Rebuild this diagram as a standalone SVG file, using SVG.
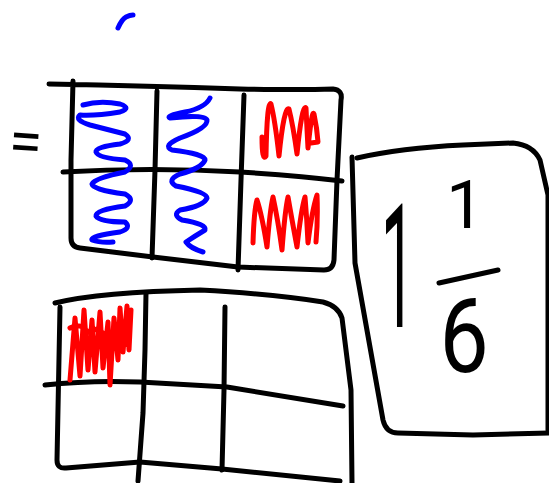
<svg xmlns="http://www.w3.org/2000/svg" width="549" height="483" viewBox="0 0 549 483">
<style>
.k{fill:none;stroke:#000;stroke-width:5;stroke-linecap:round;stroke-linejoin:round}
.b{fill:none;stroke:#0000ff;stroke-width:5;stroke-linecap:round;stroke-linejoin:round}
.r{fill:none;stroke:#ff0000;stroke-width:5;stroke-linecap:round;stroke-linejoin:round}
.t{font-family:Roboto,"Liberation Sans",Arial,sans-serif;fill:#000}
</style>
<rect width="549" height="483" fill="#fff"/>
<g id="tick"><path class="b" d="M118,28 Q122,19 126,17 Q130,15 133,15"/></g>
<g id="equals"><text class="t" x="9" y="162" font-size="60" font-family="Liberation Sans, Arial, sans-serif" transform="rotate(4 26 144)">=</text></g>
<g id="grid-top">
<path class="k" d="M49,84 Q150,86 240,89 Q300,90 333,89 Q343,90 341,100 L337,180 L334,260 Q333,270 324,270 L238,267 L153,257 L80,248 Q71,247 71,238 L71,160 L73,81"/>
<path class="k" d="M63,172 Q150,167 240,172 Q300,176 342,181"/>
<path class="k" d="M157,91 L155,170 L152,258"/>
<path class="k" d="M244,95 L241,180 L238,270"/>
<path class="b" d="M83,105 Q100,100 120,104 Q132,108 120,112 Q95,116 80,115 Q74,120 90,125 L125,134 Q134,140 120,144 Q95,147 96,152 Q98,158 125,160 Q136,165 125,172 Q95,178 92,184 Q93,190 125,194 Q136,200 125,206 Q95,210 96,216 Q100,222 125,222 Q132,228 120,232 Q90,236 92,240 Q100,243 113,242"/>
<path class="b" d="M210,98 Q205,108 185,112 Q165,116 170,118 Q205,114 207,120 Q208,128 180,138 Q162,146 172,150 Q205,154 205,160 Q202,168 180,174 Q166,180 176,186 Q207,192 207,198 Q204,206 180,210 Q172,215 182,220 Q207,224 205,230 Q195,236 186,242 Q190,248 203,252"/>
<path class="r" d="M262,137 Q262,162 266,156 Q267,100 271,104 Q275,120 279,156 Q284,106 289,109 Q293,125 297,154 Q302,104 306,108 Q307,130 308,148 Q312,108 314,114 Q317,128 318,142 L311,143"/>
<path class="r" d="M253,243 Q254,210 257,200 Q262,215 267,247 Q270,210 273,197 Q278,220 282,250 Q285,210 288,197 Q292,220 297,247 Q301,210 305,197 Q307,220 308,243 Q312,210 317,195 Q318,220 316,242"/>
</g>
<g id="grid-bottom">
<path class="k" d="M55,303 Q100,292 200,290 Q273,294 323,302 Q338,306 342,318 L351,390 L352,483"/>
<path class="k" d="M60,307 L57,460 Q57,469 66,468 L140,462 L222,469 L340,481"/>
<path class="k" d="M45,385 Q90,380 140,382 L227,387 L343,406"/>
<path class="k" d="M146,293 L145,350 L143,413 L138,481"/>
<path class="k" d="M225,307 L224,390 L222,470"/>
<path class="r" d="M70,380 L75,318 L80,376 L84,310 L88,370 L92,320 L95,372 L100,312 L103,368 L108,322 L110,385 L114,318 L118,360 L120,308 L123,352 L127,306 L129,350 L131,310 L128,345 M70,328 Q80,322 88,332 Q96,326 104,334"/>
</g>
<g id="answer">
<path class="k" d="M352,157 L355,263 L383,420 Q386,433 398,433 L473,435 L549,433"/>
<path class="k" d="M357,158 Q400,148 463,145 L513,143 Q533,145 540,160 L548,195 L548,430"/>
<text class="t" font-size="172" text-anchor="middle" transform="translate(398,327) scale(0.35,1)">1</text>
<text class="t" x="465" y="228" font-size="67" text-anchor="middle">1</text>
<path class="k" d="M439,283 L498,270"/>
<text class="t" font-size="103" text-anchor="middle" transform="translate(464,372) scale(0.85,1)">6</text>
</g>
</svg>
